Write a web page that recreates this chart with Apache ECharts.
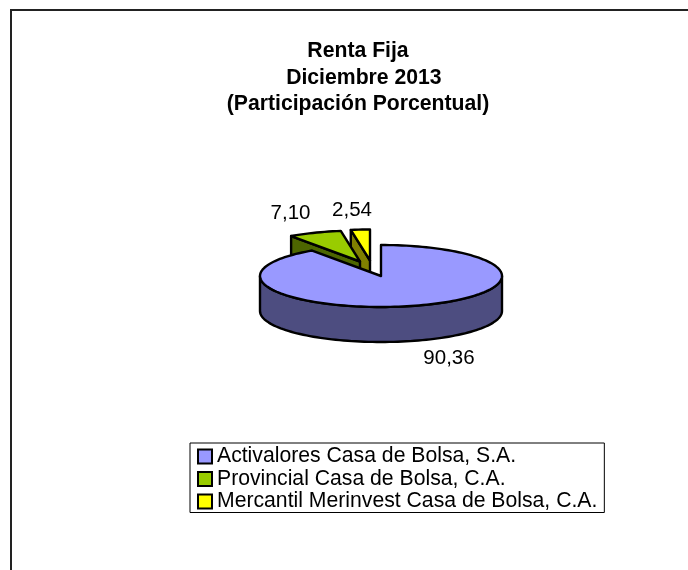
<!DOCTYPE html>
<html>
<head>
<meta charset="utf-8">
<title>Renta Fija</title>
<script src="https://cdn.jsdelivr.net/npm/echarts@6/dist/echarts.min.js"></script>
<style>
  html, body { margin: 0; padding: 0; background: #fff; }
  #chart { width: 688px; height: 570px; }
</style>
</head>
<body>
<div id="chart"></div>
<script>
var companies = ['Activalores Casa de Bolsa, S.A.', 'Provincial Casa de Bolsa, C.A.', 'Mercantil Merinvest Casa de Bolsa, C.A.'];
var shares = [90.36, 7.10, 2.54];
var shareLabels = ['90,36', '7,10', '2,54'];
var topColors = ['#9999FF', '#99CC00', '#FFFF00'];
var sideColors = ['#4D4D80', '#4D6600', '#808000'];

// pie geometry
var cx = 381, cy = 276, rx = 121, ry = 31, depth = 35;
var explode = [[0, 0], [-21, -14.5], [-11, -15.5]];
var labelPos = [[449, 358.5], [290.5, 213.5], [352, 210]];
var sliceZ = [13, 12, 11];

var total = shares.reduce(function (a, b) { return a + b; }, 0);

function pt(ox, oy, deg, dy) {
  var r = deg * Math.PI / 180;
  return [ox + rx * Math.sin(r), oy - ry * Math.cos(r) + (dy || 0)];
}

function arc(ox, oy, from, to, dy) {
  var pts = [];
  var n = Math.max(2, Math.ceil(Math.abs(to - from) / 2));
  for (var i = 0; i <= n; i++) {
    pts.push(pt(ox, oy, from + (to - from) * i / n, dy));
  }
  return pts;
}

function renderSlice(idx) {
  return function (params, api) {
    var before = 0;
    for (var i = 0; i < idx; i++) before += shares[i];
    var a0 = before / total * 360;
    var a1 = a0 + api.value(0) / total * 360;
    var ox = cx + explode[idx][0], oy = cy + explode[idx][1];
    var line = { stroke: '#000', lineWidth: 2.4, lineJoin: 'round' };
    var side = Object.assign({ fill: sideColors[idx] }, line);
    var children = [];

    // radial walls only show when they face the viewer
    if (Math.sin(a0 * Math.PI / 180) < -1e-6) {
      var p = pt(ox, oy, a0);
      children.push({
        type: 'polygon',
        shape: { points: [p, [ox, oy], [ox, oy + depth], [p[0], p[1] + depth]] },
        style: side
      });
    }
    // outer wall, front half of the ellipse
    var wallFrom = Math.max(a0, 90), wallTo = Math.min(a1, 270);
    if (wallTo > wallFrom) {
      children.push({
        type: 'polygon',
        shape: { points: arc(ox, oy, wallFrom, wallTo).concat(arc(ox, oy, wallTo, wallFrom, depth)) },
        style: side
      });
    }
    children.push({
      type: 'polygon',
      shape: { points: [[ox, oy]].concat(arc(ox, oy, a0, a1)) },
      style: Object.assign({ fill: topColors[idx] }, line)
    });
    children.push({
      type: 'text',
      style: {
        x: labelPos[idx][0], y: labelPos[idx][1],
        text: shareLabels[idx],
        fill: '#000',
        font: '20.5px "Liberation Sans", Arial, sans-serif',
        textAlign: 'center', textVerticalAlign: 'middle'
      }
    });
    return { type: 'group', children: children };
  };
}

var chart = echarts.init(document.getElementById('chart'), null, { renderer: 'canvas' });

chart.setOption({
  backgroundColor: '#fff',
  animation: false,
  title: {
    left: 353,
    top: 33,
    textAlign: 'center',
    text: 'Renta Fija\n  Diciembre 2013\n(Participación Porcentual)',
    textStyle: {
      fontFamily: '"Liberation Sans", Arial, sans-serif',
      fontSize: 21.2,
      fontWeight: 'bold',
      color: '#000',
      lineHeight: 26.5
    }
  },
  legend: {
    left: 190,
    top: 443,
    orient: 'vertical',
    icon: 'rect',
    data: companies,
    backgroundColor: '#fff',
    borderColor: '#000',
    borderWidth: 1,
    padding: [2.5, 7, 0, 7],
    itemWidth: 14,
    itemHeight: 14,
    itemGap: 0.5,
    itemStyle: { borderColor: '#000', borderWidth: 2 },
    selectedMode: false,
    textStyle: {
      fontFamily: '"Liberation Sans", Arial, sans-serif',
      fontSize: 21.2,
      lineHeight: 22,
      color: '#000',
      padding: [0, 0, 0, 0]
    }
  },
  graphic: [{
    type: 'polyline',
    silent: true,
    shape: { points: [[11, 570], [11, 10], [688, 10]] },
    style: { stroke: '#222', lineWidth: 2, fill: null }
  }],
  series: companies.map(function (name, i) {
    return {
      type: 'custom',
      name: name,
      coordinateSystem: 'none',
      z: sliceZ[i],
      itemStyle: { color: topColors[i] },
      renderItem: renderSlice(i),
      data: [[shares[i]]]
    };
  })
});

window.addEventListener('resize', function () { chart.resize(); });
</script>
</body>
</html>
